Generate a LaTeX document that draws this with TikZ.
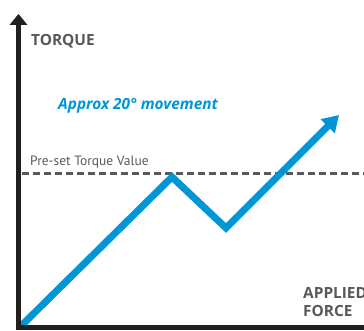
\documentclass[tikz,border=0pt]{standalone}
\usepackage{fontspec}
\setmainfont{PT Sans}
\newfontfamily\boldsans{Open Sans}
\usetikzlibrary{arrows.meta}
\definecolor{axisblack}{HTML}{231F20}
\definecolor{txtgray}{HTML}{58595B}
\definecolor{curveblue}{HTML}{0096D6}
\tikzset{
  axisline/.style={line width=5pt, draw=axisblack},
  curve/.style={line width=7pt, draw=curveblue, line join=miter,
    -{Triangle[length=16pt,width=19pt]}},
  presetline/.style={line width=3pt, draw=txtgray, dash pattern=on 7pt off 4pt},
  labelbold/.style={font=\boldsans\fontsize{15.4}{17}\selectfont\bfseries, text=txtgray, inner sep=0pt, anchor=base west},
  labelreg/.style={font=\fontsize{13.5}{15}\selectfont, text=txtgray, inner sep=0pt, anchor=base west},
  labelblue/.style={font=\boldsans\fontsize{15.4}{17}\selectfont\bfseries\itshape, text=curveblue, inner sep=0pt, anchor=base west},
}
\begin{document}
\begin{tikzpicture}[x=1pt,y=1pt]
\useasboundingbox (0,0) rectangle (364,330);
% coordinates
\coordinate (origin) at (18.5,2.5);
\coordinate (ytop) at (18.5,305);
\coordinate (xend) at (372,2.5);
\coordinate (p0) at (19,2);
\coordinate (peak) at (172,153);
\coordinate (valley) at (226,102);
\coordinate (tip) at (339,215);
\coordinate (dl) at (22,157);
\coordinate (dr) at (366,157);
% dashed preset line
\draw[presetline] (dl) -- (dr);
% blue curve
\begin{scope}
\clip (21,5) rectangle (364,330);
\draw[curve] (p0) -- (peak) -- (valley) -- (tip);
\end{scope}
% axes
\draw[axisline] (16,2.5) -- (xend);
\draw[axisline] (18.5,0) -- (ytop);
\fill[axisblack] (9.5,305) -- (27.5,305) -- (18.5,316) -- cycle;
% texts
\node[labelbold] (torque) at (31,284) {TORQUE};
\node[labelblue] (approx) at (58,221) {Approx 20° movement};
\node[labelreg] (preset) at (30,165) {Pre-set Torque Value};
\node[labelbold] (applied) at (303,32) {APPLIED};
\node[labelbold] (force) at (303,14) {FORCE};
\end{tikzpicture}
\end{document}
